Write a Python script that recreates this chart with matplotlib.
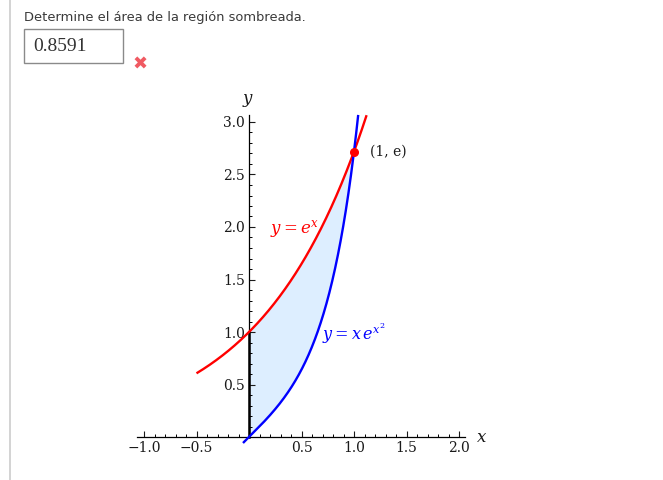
import numpy as np
import matplotlib
matplotlib.use("Agg")
import matplotlib.pyplot as plt
from matplotlib.patches import Rectangle
from matplotlib.lines import Line2D

plt.rcParams["mathtext.fontset"] = "dejavuserif"

# ---- data ----
question = "Determine el área de la región sombreada."
answer = "0.8591"
red_domain = [-0.5, 1.12]      # y = e^x
blue_domain = [-0.057, 1.04]   # y = x e^{x^2}
shade_domain = [0.0, 1.0]
point = (1.0, np.e)
point_label = "(1, e)"
xticks_major = [-1.0, -0.5, 0.5, 1.0, 1.5, 2.0]
xtick_labels = ["\u22121.0", "\u22120.5", "0.5", "1.0", "1.5", "2.0"]
yticks_major = [0.5, 1.0, 1.5, 2.0, 2.5, 3.0]
ytick_labels = ["0.5", "1.0", "1.5", "2.0", "2.5", "3.0"]
xminor = np.round(np.arange(-1.0, 2.01, 0.1), 2)
yminor = np.round(np.arange(0.1, 3.01, 0.1), 2)

W, H = 663, 480
fig = plt.figure(figsize=(W / 100, H / 100), dpi=100)
fig.patch.set_facecolor("white")

# page decorations (figure pixel coordinates)
bg = fig.add_axes([0, 0, 1, 1])
bg.set_xlim(0, W)
bg.set_ylim(H, 0)
bg.axis("off")
bg.add_line(Line2D([9.5, 9.5], [0, H], color="#cccccc", lw=1.2))
bg.text(24, 17, question, fontsize=9.4, family="DejaVu Sans", color="#3a3a3a",
        va="center", ha="left")
bg.add_patch(Rectangle((24, 29), 99, 34, fill=False, ec="#8a8a8a", lw=1.0))
bg.text(33, 46.5, answer, fontsize=14, family="Liberation Serif", color="#333333",
        va="center", ha="left")
bg.text(140, 65, "\u2716", fontsize=13, family="DejaVu Sans", color="#f05a62",
        va="center", ha="center")

# plot axes: x px = 249 + 105*x, y px = 437 - 105*y
px0, px1, py0, py1 = 100, 500, 90, 470
ax = fig.add_axes([px0 / W, (H - py1) / H, (px1 - px0) / W, (py1 - py0) / H])
ax.set_xlim((px0 - 249) / 105, (px1 - 249) / 105)
ax.set_ylim((437 - py1) / 105, (437 - py0) / 105)
ax.patch.set_alpha(0)

for s in ["top", "right"]:
    ax.spines[s].set_visible(False)
ax.spines["left"].set_position(("data", 0))
ax.spines["bottom"].set_position(("data", 0))
ax.spines["bottom"].set_bounds(-1.067, 2.06)
ax.spines["left"].set_bounds(0, 3.07)
for s in ["left", "bottom"]:
    ax.spines[s].set_linewidth(0.9)

ax.set_xticks(xticks_major)
ax.set_xticklabels(xtick_labels)
ax.set_yticks(yticks_major)
ax.set_yticklabels(ytick_labels)
ax.set_xticks(xminor, minor=True)
ax.set_yticks(yminor, minor=True)
ax.tick_params(which="major", direction="in", length=4.5, width=0.8, labelsize=10,
               pad=3, colors="#1a1a1a")
ax.tick_params(which="minor", direction="in", length=2.5, width=0.7)
for lab in ax.get_xticklabels() + ax.get_yticklabels():
    lab.set_family("DejaVu Serif")

# shaded region
xs = np.linspace(shade_domain[0], shade_domain[1], 300)
ax.fill_between(xs, xs * np.exp(xs ** 2), np.exp(xs), color="#ddeeff", lw=0, zorder=1)
ax.plot([0, 0], [0, 1], color="black", lw=1.8, zorder=2)

xr = np.linspace(red_domain[0], red_domain[1], 400)
ax.plot(xr, np.exp(xr), color="#ff0000", lw=1.7, zorder=3, solid_capstyle="butt")
xb = np.linspace(blue_domain[0], blue_domain[1], 400)
ax.plot(xb, xb * np.exp(xb ** 2), color="#0000ff", lw=1.7, zorder=3, solid_capstyle="butt")

ax.plot([point[0]], [point[1]], "o", color="#ff0000", ms=5.5, zorder=4)
ax.text(1.15, 2.72, point_label, fontsize=10, family="DejaVu Serif", color="#1a1a1a",
        va="center", ha="left")

ax.text(0.2, 1.98, r"$y = e^{x}$", fontsize=12, color="#ff0000", va="center", ha="left")
ax.text(0.7, 0.98, r"$y = x\,e^{x^2}$", fontsize=11.5, color="#0000ff", va="center", ha="left")

ax.text(2.16, 0.0, r"$x$", fontsize=12, color="#1a1a1a", va="center", ha="left")
ax.text(-0.01, 3.21, r"$y$", fontsize=12, color="#1a1a1a", va="center", ha="center")

fig.savefig("out.png", dpi=100)
